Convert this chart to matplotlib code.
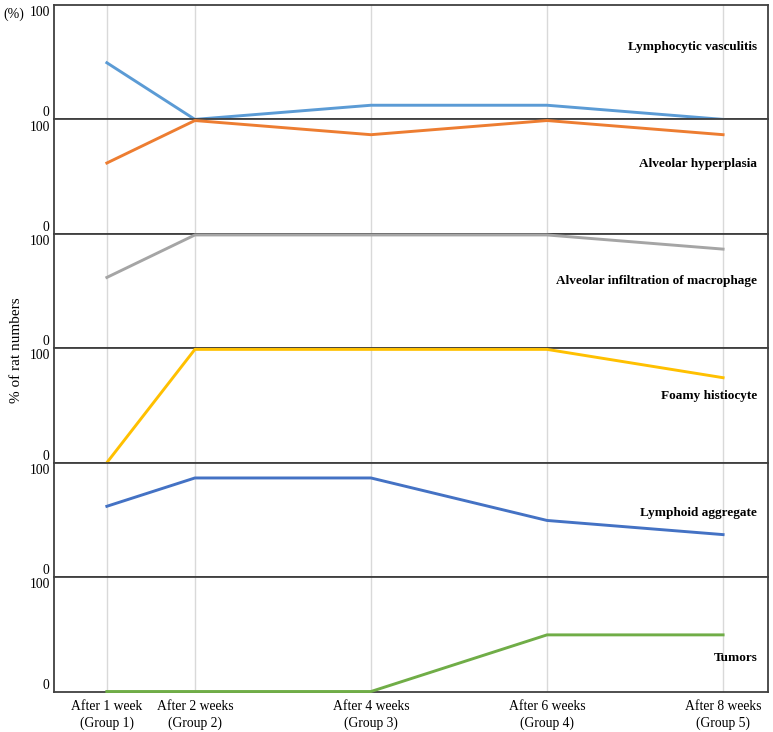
import matplotlib
matplotlib.use("Agg")
import matplotlib.pyplot as plt

plt.rcParams['font.family'] = ['Liberation Serif', 'DejaVu Serif']

weeks = [1, 2, 4, 6, 8]
week_labels = ['After 1 week\n(Group 1)', 'After 2 weeks\n(Group 2)', 'After 4 weeks\n(Group 3)',
               'After 6 weeks\n(Group 4)', 'After 8 weeks\n(Group 5)']

names = ['Lymphocytic vasculitis', 'Alveolar hyperplasia', 'Alveolar infiltration of macrophage',
         'Foamy histiocyte', 'Lymphoid aggregate', 'Tumors']

vasculitis = [50, 0, 12.5, 12.5, 0]
hyperplasia = [62.5, 100, 87.5, 100, 87.5]
macrophage = [62.5, 100, 100, 100, 87.5]
histiocyte = [0, 100, 100, 100, 75]
lymphoid = [62.5, 87.5, 87.5, 50, 37.5]
tumors = [0, 0, 0, 50, 50]

series = [vasculitis, hyperplasia, macrophage, histiocyte, lymphoid, tumors]
colors = ['#5B9BD5', '#ED7D31', '#A5A5A5', '#FFC000', '#4472C4', '#70AD47']
# where the panel names sit (axes fraction)
name_y = [0.633, 0.611, 0.59, 0.585, 0.559, 0.293]

fig, axes = plt.subplots(6, 1, sharex=True, figsize=(7.73, 7.32), dpi=100)
fig.subplots_adjust(left=0.0699, right=0.9935, top=0.9932, bottom=0.0553, hspace=0)

for ax, vals, col, name, ny in zip(axes, series, colors, names, name_y):
    ax.plot(weeks, vals, color=col, lw=2.1, clip_on=False, zorder=3)
    ax.set_ylim(0, 101)
    ax.set_xlim(0.4, 8.51)
    ax.set_yticks([])
    ax.text(-0.006, 0, '0', transform=ax.get_yaxis_transform(), ha='right', va='bottom', fontsize=9.8)
    ax.text(-0.006, 100, '100', transform=ax.get_yaxis_transform(), ha='right', va='top', fontsize=9.8)
    ax.text(0.985, ny, name, transform=ax.transAxes, ha='right', va='center',
            fontsize=9.5, fontweight='bold')
    ax.grid(axis='x', color='#d9d9d9', lw=1)
    ax.set_axisbelow(True)
    for s in ax.spines.values():
        s.set_color('#404040')
        s.set_linewidth(1.3)
    ax.tick_params(axis='x', length=0)

axes[-1].set_xticks(weeks)
axes[-1].set_xticklabels(week_labels, fontsize=9.8, linespacing=1.35)
axes[-1].tick_params(axis='x', pad=6)

fig.text(0.021, 0.522, '% of rat numbers', rotation=90, ha='center', va='center', fontsize=11)
fig.text(0.005, 0.981, '(%)', ha='left', va='center', fontsize=10)

plt.savefig('out.png', dpi=100)
